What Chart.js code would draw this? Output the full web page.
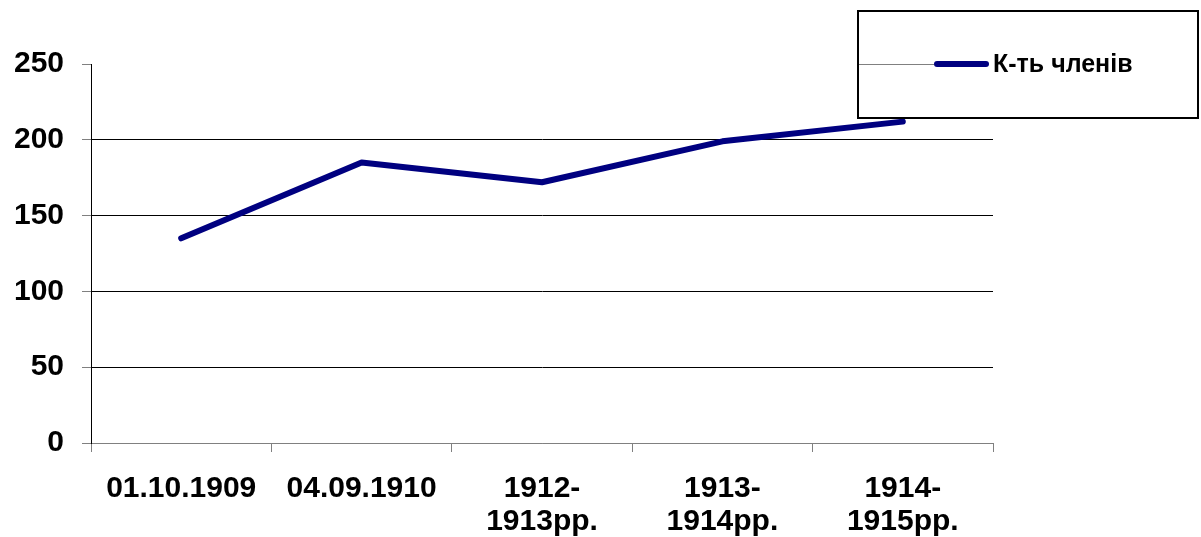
<!DOCTYPE html>
<html>
<head>
<meta charset="utf-8">
<script src="https://cdn.jsdelivr.net/npm/chart.js@4"></script>
<style>
  html, body { margin: 0; padding: 0; background: #fff; }
  #wrap { width: 1201px; height: 537px; position: relative; }
</style>
</head>
<body>
<div id="wrap"><canvas id="grafico" width="1201" height="537"></canvas></div>
<script>
// Дані графіка
const categories = [['01.10.1909'], ['04.09.1910'], ['1912-', '1913рр.'], ['1913-', '1914рр.'], ['1914-', '1915рр.']];
const members = [135, 185, 172, 199, 212];
const seriesLabel = 'К-ть членів';
const yTicks = [0, 50, 100, 150, 200, 250];

// Легенда у рамці, як в оригіналі
const boxLegend = {
  id: 'boxLegend',
  afterDraw(chart) {
    const c = chart.ctx;
    c.save();
    c.strokeStyle = '#000';
    c.lineWidth = 2;
    c.strokeRect(858, 11, 340, 107);
    c.strokeStyle = '#808080';
    c.lineWidth = 1;
    c.beginPath();
    c.moveTo(859, 64.5);
    c.lineTo(934, 64.5);
    c.stroke();
    c.strokeStyle = '#000080';
    c.lineWidth = 6;
    c.lineCap = 'round';
    c.beginPath();
    c.moveTo(937, 64);
    c.lineTo(986, 64);
    c.stroke();
    c.fillStyle = '#000';
    c.font = 'bold 25px "Liberation Sans", Arial, sans-serif';
    c.textBaseline = 'middle';
    c.fillText(chart.data.datasets[0].label, 993, 65);
    c.restore();
  }
};

new Chart(document.getElementById('grafico').getContext('2d'), {
  type: 'line',
  data: {
    labels: categories,
    datasets: [{
      label: seriesLabel,
      data: members,
      borderColor: '#000080',
      borderWidth: 6,
      borderCapStyle: 'round',
      borderJoinStyle: 'round',
      pointRadius: 0,
      tension: 0,
      fill: false
    }]
  },
  options: {
    responsive: false,
    animation: false,
    layout: { padding: { top: 64, right: 208, bottom: 0, left: 0 } },
    plugins: { legend: { display: false }, tooltip: { enabled: false } },
    scales: {
      x: {
        offset: true,
        afterFit: s => { s.height = 94; },
        grid: {
          display: true,
          offset: true,
          drawOnChartArea: false,
          tickLength: 9,
          tickColor: '#808080',
          color: '#808080'
        },
        border: { display: true, color: '#808080' },
        ticks: {
          color: '#000',
          padding: 20,
          maxRotation: 0,
          autoSkip: false,
          font: { family: '"Liberation Sans", Arial, sans-serif', size: 30, weight: 'bold', lineHeight: 1.1 }
        }
      },
      y: {
        min: 0,
        max: 250,
        afterFit: s => { s.width = 91; },
        afterBuildTicks: s => { s.ticks = yTicks.map(v => ({ value: v })); },
        grid: {
          color: c => c.tick.value === 250 ? 'rgba(0,0,0,0)' : (c.tick.value === 0 ? '#808080' : '#000'),
          tickColor: '#808080',
          tickLength: 9,
          lineWidth: 1
        },
        border: { display: true, color: '#000' },
        ticks: {
          color: '#000',
          padding: 18,
          font: { family: '"Liberation Sans", Arial, sans-serif', size: 30, weight: 'bold' }
        }
      }
    }
  },
  plugins: [boxLegend]
});
</script>
</body>
</html>
